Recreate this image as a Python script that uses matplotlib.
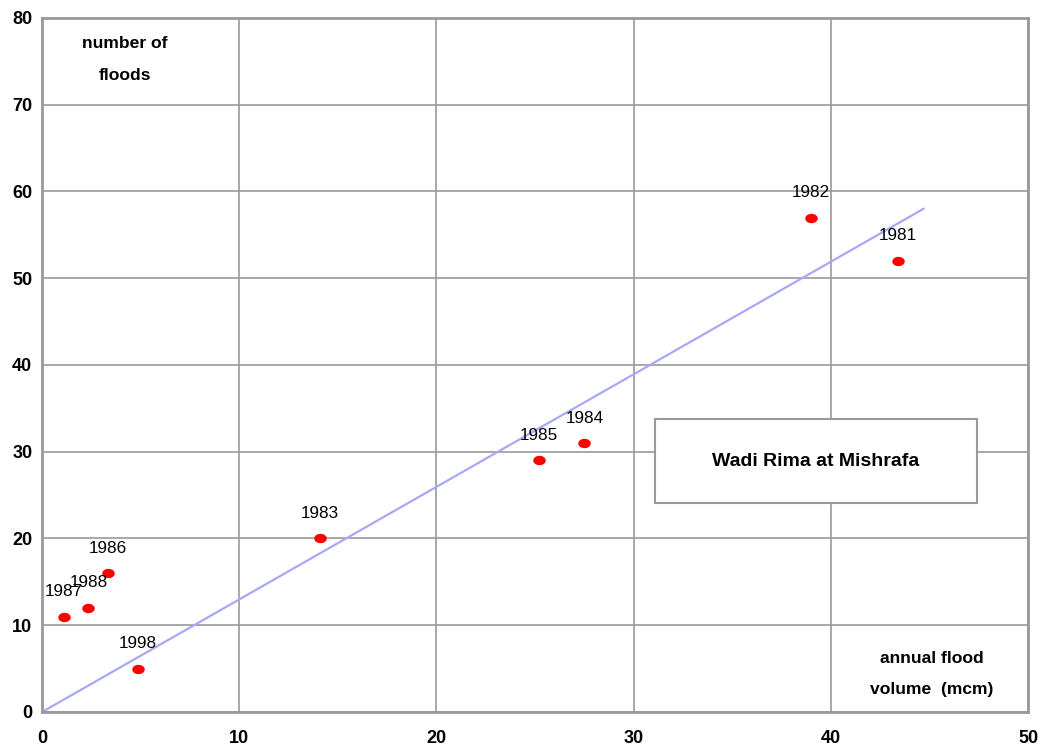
import numpy as np
import matplotlib
matplotlib.use("Agg")
import matplotlib.pyplot as plt
from matplotlib.patches import Rectangle

plt.rcParams['font.family'] = ['Liberation Sans', 'DejaVu Sans']

# data
years = ['1987', '1988', '1986', '1998', '1983', '1985', '1984', '1982', '1981']
volume = [1.1, 2.35, 3.35, 4.85, 14.1, 25.2, 27.5, 39.0, 43.4]
floods = [11, 12, 16, 5, 20, 29, 31, 57, 52]
trend_x = [0, 44.7]
trend_y = [0, 58.0]

fig = plt.figure(figsize=(10.46, 7.52), dpi=100)
ax = fig.add_axes([0.0402, 0.0532, 0.9426, 0.9229])

# elliptic marker, wider than tall
t = np.linspace(0, 2 * np.pi, 60)
ell = np.column_stack([np.cos(t), 0.75 * np.sin(t)])

ax.plot(trend_x, trend_y, color='#a8a8f8', lw=1.6, zorder=2)
ax.plot(volume, floods, ls='none', marker=ell, ms=9, color='#ff0000',
        markeredgewidth=0, zorder=3)

for yr, x, y in zip(years, volume, floods):
    ax.annotate(yr, (x, y), xytext=(0, 18), textcoords='offset points',
                ha='center', va='center', fontsize=12.3, color='black')

ax.set_xlim(0, 50)
ax.set_ylim(0, 80)
ax.set_xticks(range(0, 51, 10))
ax.set_yticks(range(0, 81, 10))
ax.tick_params(length=0, labelsize=13)
ax.tick_params(axis='x', pad=13)
ax.tick_params(axis='y', pad=7)
for lab in ax.get_xticklabels() + ax.get_yticklabels():
    lab.set_fontweight('bold')
ax.grid(True, color='#999999', lw=1.2)
ax.set_axisbelow(True)
for sp in ax.spines.values():
    sp.set_color('#999999')
    sp.set_linewidth(2)

ax.text(4.2, 77.1, 'number of', ha='center', va='center', fontsize=12.6, fontweight='bold')
ax.text(4.2, 73.4, 'floods', ha='center', va='center', fontsize=12.6, fontweight='bold')
ax.text(45.1, 6.2, 'annual flood', ha='center', va='center', fontsize=12.6, fontweight='bold')
ax.text(45.1, 2.65, 'volume  (mcm)', ha='center', va='center', fontsize=12.6, fontweight='bold')

ax.add_patch(Rectangle((31.1, 24.1), 16.3, 9.7, facecolor='white',
                       edgecolor='#999999', lw=1.5, zorder=4))
ax.text(39.25, 28.9, 'Wadi Rima at Mishrafa', ha='center', va='center',
        fontsize=14, fontweight='bold', zorder=5)

fig.savefig('out.png', dpi=100)
